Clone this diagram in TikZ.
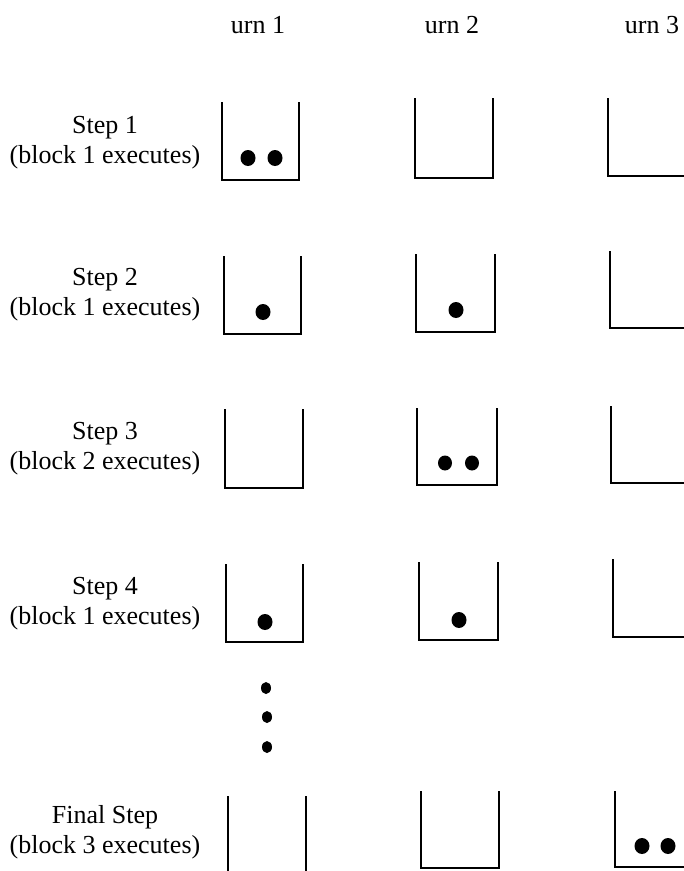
\documentclass[tikz,border=0pt]{standalone}
\usepackage{fontspec}
\setmainfont{Liberation Serif}
\begin{document}
\begin{tikzpicture}[x=1pt,y=-1pt,
  wall/.style={line width=2.2pt, line cap=rect, line join=miter},
  ball/.style={fill=black, draw=none},
  smalldot/.style={fill=black, draw=none},
  lbl/.style={font=\fontsize{26}{30}\selectfont, align=center, inner sep=0pt}]
\useasboundingbox (0,0) rectangle (684,871);
\clip (0,0) rectangle (684,871);
\fill[white] (0,0) rectangle (684,871);

% column headers
\node[lbl] (h1) at (258,25) {urn 1};
\node[lbl] (h2) at (452,25) {urn 2};
\node[lbl] (h3) at (652,25) {urn 3};

% row labels
\node[lbl] (s1) at (105,143) {Step 1\\(block 1 executes)};
\node[lbl] (s2) at (105,295) {Step 2\\(block 1 executes)};
\node[lbl] (s3) at (105,449) {Step 3\\(block 2 executes)};
\node[lbl] (s4) at (105,604) {Step 4\\(block 1 executes)};
\node[lbl] (s5) at (105,832) {Final Step\\(block 3 executes)};

% row 1
\draw[wall] (222,103) -- (222,180) -- (299,180) -- (299,103);
\draw[wall] (415,99) -- (415,178) -- (493,178) -- (493,99);
\draw[wall] (608,99) -- (608,176) -- (690,176);
\fill[ball] (248,158) ellipse (7.5 and 8);
\fill[ball] (275,158) ellipse (7.5 and 8);

% row 2
\draw[wall] (224,257) -- (224,334) -- (301,334) -- (301,257);
\draw[wall] (416,255) -- (416,332) -- (495,332) -- (495,255);
\draw[wall] (610,252) -- (610,328) -- (690,328);
\fill[ball] (263,312) ellipse (7.5 and 8);
\fill[ball] (456,310) ellipse (7.5 and 8);

% row 3
\draw[wall] (225,410) -- (225,488) -- (303,488) -- (303,410);
\draw[wall] (417,409) -- (417,485) -- (497,485) -- (497,409);
\draw[wall] (611,407) -- (611,483) -- (690,483);
\fill[ball] (445,463) ellipse (7 and 7.5);
\fill[ball] (472,463) ellipse (7 and 7.5);

% row 4
\draw[wall] (226,565) -- (226,642) -- (303,642) -- (303,565);
\draw[wall] (419,563) -- (419,640) -- (498,640) -- (498,563);
\draw[wall] (613,560) -- (613,637) -- (690,637);
\fill[ball] (265,622) ellipse (7.5 and 8);
\fill[ball] (459,620) ellipse (7.5 and 8);

% vertical ellipsis
\fill[smalldot] (266,688) ellipse (5 and 6);
\fill[smalldot] (267,717) ellipse (5 and 6);
\fill[smalldot] (267,747) ellipse (5 and 6);

% final step
\draw[wall] (228,797) -- (228,880);
\draw[wall] (306,797) -- (306,880);
\draw[wall] (421,792) -- (421,868) -- (499,868) -- (499,792);
\draw[wall] (615,792) -- (615,867) -- (690,867);
\fill[ball] (642,846) ellipse (7.5 and 8);
\fill[ball] (668,846) ellipse (7.5 and 8);
\end{tikzpicture}
\end{document}
